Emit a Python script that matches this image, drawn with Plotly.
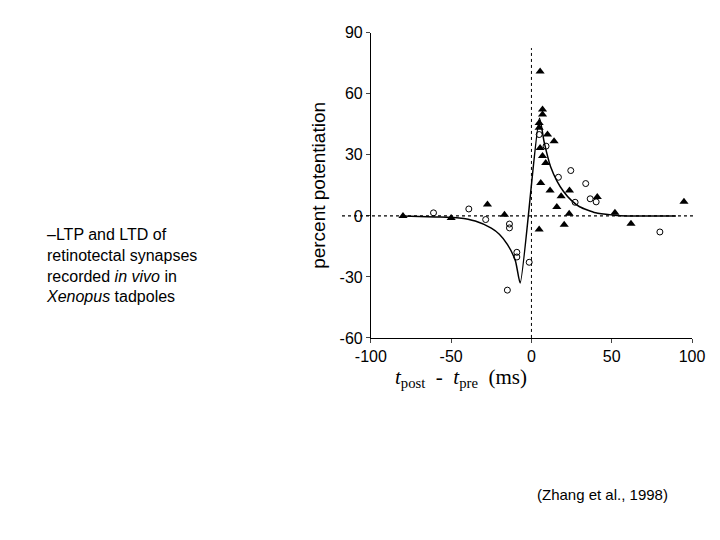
import plotly.graph_objects as go

tri_x = [-80, -50, -27.4, -16.8, 5.4, 6.9, 6.9, 4.8, 4.8, 10, 14.1, 5.4, 6.9, 8.9, 5.8, 11.6, 23.7, 18.5, 15.8, 23.5, 20.4, 4.8, 41, 52, 62, 95]
tri_y = [0, -1, 5.6, 0.6, 71, 52.3, 49.8, 45.7, 43.3, 40, 36.7, 33.4, 29.4, 26, 16.2, 12.5, 12.5, 9.7, 4.4, 1.1, -4.3, -6.7, 9.3, 1.5, -3.8, 6.9]
circ_x = [-61, -39, -28.5, -13.7, -13.7, -9.1, -9.1, -15, -1.4, 4.8, 9.1, 16.8, 24.5, 33.8, 36.6, 40.3, 27.2, 80]
circ_y = [1.5, 3.4, -1.8, -4, -5.9, -17.9, -20.2, -36.5, -22.8, 40, 34.3, 19, 22.3, 15.9, 8.4, 6.9, 6.7, -7.9]
fit_t = [-80, -60, -45, -35, -25, -20, -15, -10, -7, 5, 8, 12, 16, 20, 25, 30, 40, 50, 60, 70, 80, 90]
fit_y = [0, -0.5, -1, -2.5, -6, -9, -14, -22, -33, 48, 36, 24, 17, 12, 7.5, 4.5, 1.5, 0.5, 0, 0, 0, 0]
x_ticks = [-100, -50, 0, 50, 100]
x_labels = ["-100", "-50", "0", "50", "100"]
y_ticks = [-60, -30, 0, 30, 60, 90]
y_labels = ["-60", "-30", "0", "30", "60", "90"]

fig = go.Figure()
fig.add_trace(go.Scatter(x=fit_t, y=fit_y, mode="lines", line=dict(color="black", width=1.5, shape="spline", smoothing=0.6), hoverinfo="skip"))
fig.add_trace(go.Scatter(x=tri_x, y=tri_y, mode="markers", marker=dict(symbol="triangle-up", size=8, color="black")))
fig.add_trace(go.Scatter(x=circ_x, y=circ_y, mode="markers", marker=dict(symbol="circle-open", size=6, color="black", line=dict(width=1))))

fig.add_shape(type="line", xref="x domain", yref="y", x0=-0.09, x1=1.01, y0=0, y1=0, line=dict(color="black", width=1.2, dash="dot"))
fig.add_shape(type="line", xref="x", yref="y domain", x0=0, x1=0, y0=0, y1=0.95, line=dict(color="black", width=1, dash="dot"))

fig.update_xaxes(domain=[0.504, 0.95], range=[-100, 100], tickvals=x_ticks, ticktext=x_labels, showgrid=False, zeroline=False, automargin=False,
                 showline=True, linecolor="black", ticks="outside", ticklen=4, tickfont=dict(family="Arial", size=16, color="black"))
fig.update_yaxes(domain=[0.389, 0.954], range=[-60, 90], tickvals=y_ticks, ticktext=y_labels, showgrid=False, zeroline=False, automargin=False,
                 showline=True, linecolor="black", ticks="outside", ticklen=4, tickfont=dict(family="Arial", size=16, color="black"),
                 title=dict(text="percent potentiation", font=dict(family="Arial", size=19, color="black"), standoff=8))

fig.add_annotation(xref="paper", yref="paper", x=0.723, y=0.287, showarrow=False,
                   text="<i>t</i><sub>post</sub>  -  <i>t</i><sub>pre</sub>  (ms)",
                   font=dict(family="Liberation Serif, serif", size=21, color="black"))
fig.add_annotation(xref="paper", yref="paper", x=0.05, y=0.6, xanchor="left", yanchor="top", showarrow=False, align="left",
                   text="–LTP and LTD of<br>retinotectal synapses<br>recorded <i>in vivo</i> in<br><i>Xenopus</i> tadpoles",
                   font=dict(family="Arial", size=16, color="black"))
fig.add_annotation(xref="paper", yref="paper", x=0.92, y=0.08, xanchor="right", showarrow=False,
                   text="(Zhang et al., 1998)", font=dict(family="Arial", size=15, color="black"))

fig.update_layout(width=720, height=540, margin=dict(l=0, r=0, t=0, b=0), showlegend=False,
                  plot_bgcolor="white", paper_bgcolor="white")
fig.write_html("out.html")
